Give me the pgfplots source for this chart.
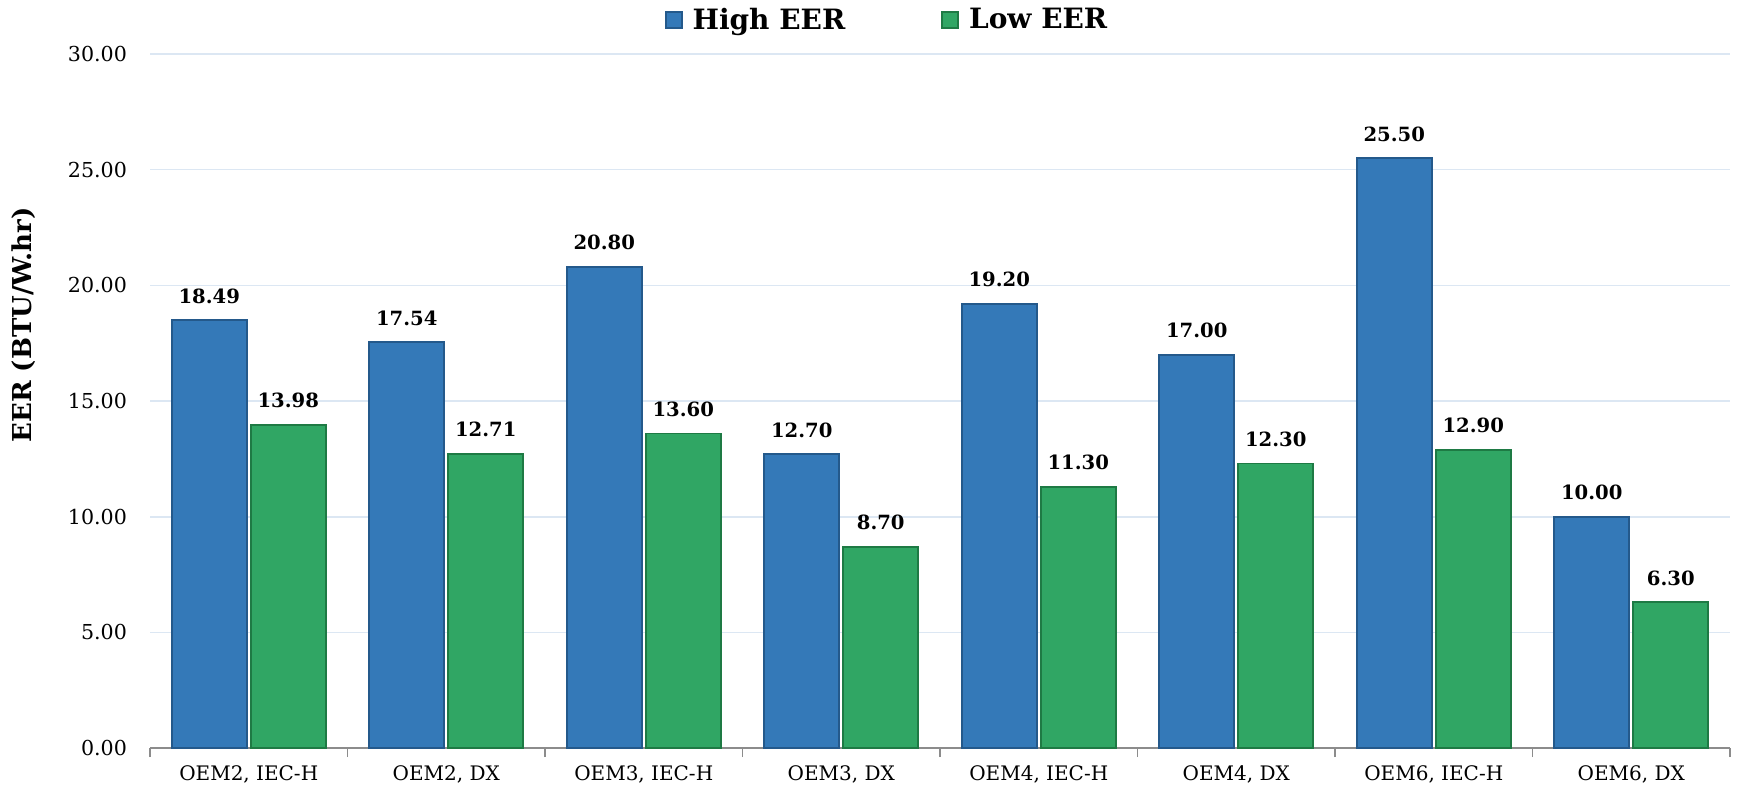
\documentclass[border=0pt]{standalone}
\usepackage{pgfplots}
\pgfplotsset{compat=1.18}
\usepackage{fontspec}
\setmainfont{DejaVu Serif}
\definecolor{bmid}{HTML}{3479B8}
\definecolor{bedge}{HTML}{24598B}
\definecolor{gmid}{HTML}{30A664}
\definecolor{gedge}{HTML}{1E7A44}
\definecolor{gridc}{HTML}{DCE7F3}
\begin{document}
\begin{tikzpicture}
\begin{axis}[
  scale only axis,
  width=790pt, height=347pt,
  xmin=-0.5, xmax=7.5,
  ymin=0, ymax=30,
  ytick={0,5,...,30},
  xtick={0,...,7},
  xticklabels={{OEM2, IEC-H},{OEM2, DX},{OEM3, IEC-H},{OEM3, DX},{OEM4, IEC-H},{OEM4, DX},{OEM6, IEC-H},{OEM6, DX}},
  minor xtick={-0.5,0.5,...,7.5},
  major tick length=0pt,
  minor tick length=4.5pt,
  tick align=outside,
  minor tick style={draw=black!45, line width=0.7pt},
  axis x line*=bottom,
  axis y line*=left,
  x axis line style={draw=black!45, line width=0.7pt},
  y axis line style={draw=none},
  ymajorgrids=true,
  major grid style={draw=gridc, line width=0.7pt},
  /pgf/number format/assume math mode=true,
  yticklabel={\pgfmathprintnumber[fixed,fixed zerofill,precision=2]{\tick}},
  yticklabel style={font=\fontsize{10.3}{12}\selectfont, xshift=-8pt},
  xticklabel style={font=\fontsize{10}{12}\selectfont, yshift=-5pt},
  ylabel={\textbf{EER (BTU/W.hr)}},
  ylabel style={font=\fontsize{13}{15}\selectfont, at={(axis description cs:-0.0797,0.61)}, anchor=center},
  ybar, bar width=0.38,
  nodes near coords={\pgfmathprintnumber[fixed,fixed zerofill,precision=2]{\pgfplotspointmeta}},
  nodes near coords style={font=\bfseries\fontsize{9.8}{12}\selectfont, anchor=south, inner sep=0pt, yshift=8pt, black},
  legend columns=2,
  legend style={at={(0.5,1)}, anchor=center, yshift=17pt, xshift=-26pt, draw=none, fill=none,
    font=\bfseries\fontsize{14}{16}\selectfont,
    /tikz/every odd column/.append style={column sep=3pt},
    /tikz/every even column/.append style={column sep=46pt}},
  legend image code/.code={\fill[#1] (0pt,-4pt) rectangle (8pt,4pt);},
]
\addplot[bar shift=-0.2, draw=bedge, line width=0.9pt, fill=bmid]
  coordinates {(0,18.49) (1,17.54) (2,20.80) (3,12.70) (4,19.20) (5,17.00) (6,25.50) (7,10.00)};
\addlegendentry{High EER}
\addplot[bar shift=0.2, draw=gedge, line width=0.9pt, fill=gmid]
  coordinates {(0,13.98) (1,12.71) (2,13.60) (3,8.70) (4,11.30) (5,12.30) (6,12.90) (7,6.30)};
\addlegendentry{Low EER}
\end{axis}
\path (current axis.south west) ++(-75pt,-24pt);
\path (current axis.north east) ++(4.5pt,26.5pt);
\end{tikzpicture}
\end{document}
